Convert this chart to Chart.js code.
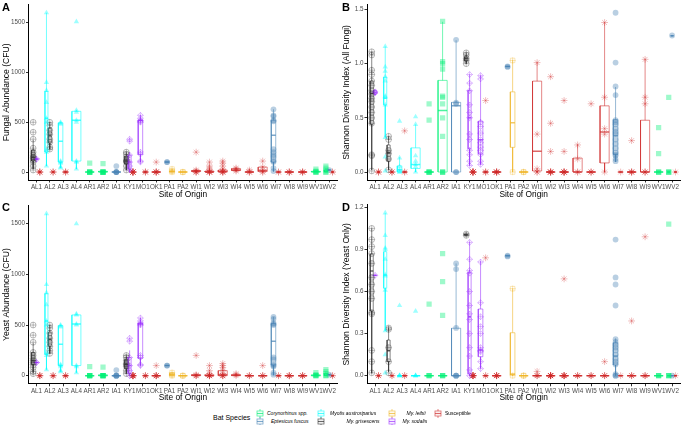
<!DOCTYPE html>
<html>
<head>
<meta charset="utf-8">
<script src="https://cdn.jsdelivr.net/npm/chart.js@4.4.0/dist/chart.umd.min.js"></script>
<style>
  body { margin: 0; background: #fff; width: 685px; height: 425px; position: relative; overflow: hidden;
         font-family: 'Liberation Sans', Arial, sans-serif; }
  canvas { position: absolute; }
  .tag { position: absolute; font-weight: bold; font-size: 11px; line-height: 1; }
  .leg { position: absolute; font-size: 5px; font-style: italic; white-space: nowrap; line-height: 1; color: #000; }
  .key { position: absolute; }
</style>
</head>
<body>
<canvas id="chartA" width="342" height="200" style="left:0;top:0"></canvas>
<canvas id="chartB" width="345" height="200" style="left:340px;top:0"></canvas>
<canvas id="chartC" width="342" height="204" style="left:0;top:200px"></canvas>
<canvas id="chartD" width="345" height="204" style="left:340px;top:200px"></canvas>
<div class="tag" style="left:2px;top:2px">A</div>
<div class="tag" style="left:342px;top:2px">B</div>
<div class="tag" style="left:2px;top:202px">C</div>
<div class="tag" style="left:342px;top:202px">D</div>
<div id="legend"></div>

<script>
/**
 * Bat species boxplots by site - four panels (abundance and Shannon diversity)
 */

const sites = ['AL1', 'AL2', 'AL3', 'AL4', 'AR1', 'AR2', 'IA1', 'KY1', 'MO1', 'OK1', 'PA1', 'PA2',
    'WI1', 'WI2', 'WI3', 'WI4', 'WI5', 'WI6', 'WI7', 'WI8', 'WI9', 'WV1', 'WV2'];
const speciesKeys = ['Cory', 'Epfu', 'Myau', 'Mygr', 'Myle', 'Myso', 'Susc'];
const speciesNames = ['Corynorhinus spp.', 'Eptesicus fuscus', 'Myotis austroriparius', 'My. grisescens',
    'My. leibii', 'My. sodalis', 'Susceptible'];

// species sampled at each site (dodge order)
const siteSpecies = [
    ['Mygr', 'Myso', 'Susc'], ['Myau', 'Mygr', 'Susc'], ['Myau', 'Susc'], ['Myau'], ['Cory'], ['Cory'],
    ['Epfu'], ['Mygr', 'Myso', 'Susc'], ['Myso', 'Susc'], ['Susc'], ['Epfu', 'Myle'], ['Myle'],
    ['Susc'], ['Susc'], ['Susc'], ['Susc'], ['Susc'], ['Susc'], ['Epfu', 'Susc'], ['Susc'], ['Susc'],
    ['Cory'], ['Cory', 'Epfu', 'Susc']
];

// boxes: [site, species, lower whisker, Q1, median, Q3, upper whisker]
const boxesA = [
    ['AL1', 'Mygr', 30, 110, 150, 220, 320], ['AL1', 'Myso', 125, 128, 130, 132, 135], ['AL1', 'Susc', 0, 0, 0, 0, 0],
    ['AL2', 'Myau', 60, 200, 540, 810, 1600], ['AL2', 'Mygr', 230, 290, 370, 440, 500], ['AL2', 'Susc', 0, 0, 0, 0, 0],
    ['AL3', 'Myau', 40, 100, 310, 495, 500], ['AL3', 'Susc', 0, 0, 0, 0, 0],
    ['AL4', 'Myau', 30, 110, 520, 610, 620],
    ['AR1', 'Cory', 0, 0, 0, 0, 0], ['AR2', 'Cory', 0, 0, 3, 8, 10], ['IA1', 'Epfu', 0, 0, 0, 0, 0],
    ['KY1', 'Mygr', 20, 80, 110, 160, 200], ['KY1', 'Myso', 0, 30, 100, 170, 200], ['KY1', 'Susc', 0, 0, 0, 0, 0],
    ['MO1', 'Myso', 100, 175, 520, 520, 570], ['MO1', 'Susc', 0, 0, 0, 0, 0], ['OK1', 'Susc', 0, 0, 0, 0, 0],
    ['PA1', 'Epfu', 100, 100, 100, 100, 100], ['PA1', 'Myle', 0, 0, 5, 10, 30], ['PA2', 'Myle', 0, 0, 0, 0, 0],
    ['WI1', 'Susc', 0, 5, 10, 15, 20], ['WI2', 'Susc', 0, 0, 0, 10, 20], ['WI3', 'Susc', 0, 0, 5, 20, 40],
    ['WI4', 'Susc', 10, 15, 20, 35, 40], ['WI5', 'Susc', 0, 0, 0, 0, 0], ['WI6', 'Susc', 0, 5, 15, 50, 60],
    ['WI7', 'Epfu', 5, 100, 370, 520, 630], ['WI7', 'Susc', 0, 0, 0, 0, 0],
    ['WI8', 'Susc', 0, 0, 0, 0, 0], ['WI9', 'Susc', 0, 0, 0, 0, 0],
    ['WV1', 'Cory', 0, 0, 3, 8, 15], ['WV2', 'Cory', 0, 0, 5, 20, 40], ['WV2', 'Epfu', 20, 20, 20, 20, 20],
    ['WV2', 'Susc', 0, 0, 0, 0, 0]
];
// points: [site, species, values]
const pointsA = [
    ['AL1', 'Mygr', [500, 400, 330, 240, 200, 170, 150, 140, 120, 100, 60, 20]], ['AL1', 'Myso', [130, 130]],
    ['AL1', 'Susc', [0, 0, 0, 0]],
    ['AL2', 'Myau', [1600, 900, 820, 700, 540, 500, 220, 200, 60]], ['AL2', 'Mygr', [500, 470, 420, 380, 330, 300, 250, 230]],
    ['AL2', 'Susc', [0, 0, 0]],
    ['AL3', 'Myau', [500, 490, 480, 110, 100, 90, 50, 40]], ['AL3', 'Susc', [0, 0, 0]],
    ['AL4', 'Myau', [1510, 620, 600, 520, 500, 110, 100, 30]],
    ['AR1', 'Cory', [90, 0, 0, 0, 0, 0]], ['AR2', 'Cory', [85, 0, 0, 0, 0, 0, 0]], ['IA1', 'Epfu', [60, 0, 0, 0, 0]],
    ['KY1', 'Mygr', [200, 180, 150, 120, 110, 100, 60, 20]], ['KY1', 'Myso', [330, 310, 170, 100, 60, 20]],
    ['KY1', 'Susc', [0, 0, 0, 0, 0, 0, 0, 0]],
    ['MO1', 'Myso', [570, 540, 520, 510, 500, 200, 180, 110, 100]], ['MO1', 'Susc', [0, 0, 0]],
    ['OK1', 'Susc', [100, 0, 0, 0, 0, 0]],
    ['PA1', 'Epfu', [100, 100]], ['PA1', 'Myle', [30, 10, 0]], ['PA2', 'Myle', [0, 0]],
    ['WI1', 'Susc', [200, 20, 10, 0, 0, 0]], ['WI2', 'Susc', [100, 60, 40, 20, 0, 0, 0, 0, 0]],
    ['WI3', 'Susc', [110, 90, 60, 30, 10, 0, 0, 0, 0]], ['WI4', 'Susc', [40, 30, 20, 10]],
    ['WI5', 'Susc', [20, 0, 0, 0]], ['WI6', 'Susc', [110, 50, 20, 0, 0]],
    ['WI7', 'Epfu', [630, 570, 560, 520, 510, 230, 200, 170, 150, 110, 100, 40, 10]], ['WI7', 'Susc', [0, 0]],
    ['WI8', 'Susc', [0, 0, 0, 0]], ['WI9', 'Susc', [0, 0, 0, 0]],
    ['WV1', 'Cory', [30, 10, 0, 0, 0]], ['WV2', 'Cory', [60, 40, 20, 0, 0]], ['WV2', 'Epfu', [20]], ['WV2', 'Susc', [0, 0]]
];

const boxesB = [
    ['AL1', 'Mygr', 0.02, 0.44, 0.725, 0.84, 1.11], ['AL1', 'Myso', 0.71, 0.72, 0.735, 0.755, 0.76], ['AL1', 'Susc', 0, 0, 0, 0, 0],
    ['AL2', 'Myau', 0.32, 0.62, 0.68, 0.875, 1.16], ['AL2', 'Mygr', 0.02, 0.10, 0.178, 0.25, 0.33], ['AL2', 'Susc', 0, 0, 0, 0, 0],
    ['AL3', 'Myau', 0, 0, 0.02, 0.057, 0.138], ['AL3', 'Susc', 0, 0, 0, 0, 0],
    ['AL4', 'Myau', 0, 0.033, 0.07, 0.223, 0.44],
    ['AR1', 'Cory', 0, 0, 0, 0, 0], ['AR2', 'Cory', 0, 0, 0.569, 0.846, 1.387], ['IA1', 'Epfu', 0, 0, 0.611, 0.643, 1.216],
    ['KY1', 'Mygr', 1.0, 1.026, 1.045, 1.065, 1.10], ['KY1', 'Myso', 0.06, 0.214, 0.5, 0.755, 0.90], ['KY1', 'Susc', 0, 0, 0, 0, 0],
    ['MO1', 'Myso', 0.069, 0.168, 0.298, 0.469, 0.89], ['MO1', 'Susc', 0, 0, 0, 0, 0], ['OK1', 'Susc', 0, 0, 0, 0, 0],
    ['PA1', 'Epfu', 0.975, 0.975, 0.975, 0.975, 0.975], ['PA1', 'Myle', 0, 0.228, 0.454, 0.74, 1.035], ['PA2', 'Myle', 0, 0, 0, 0, 0],
    ['WI1', 'Susc', 0, 0.01, 0.192, 0.839, 1.01], ['WI2', 'Susc', 0, 0, 0, 0, 0], ['WI3', 'Susc', 0, 0, 0, 0, 0],
    ['WI4', 'Susc', 0, 0, 0, 0.129, 0.255], ['WI5', 'Susc', 0, 0, 0, 0, 0], ['WI6', 'Susc', 0, 0.084, 0.37, 0.611, 1.378],
    ['WI7', 'Epfu', 0.093, 0.162, 0.334, 0.484, 0.785], ['WI7', 'Susc', 0, 0, 0, 0, 0],
    ['WI8', 'Susc', 0, 0, 0, 0, 0], ['WI9', 'Susc', 0, 0, 0, 0.478, 1.04],
    ['WV1', 'Cory', 0, 0, 0, 0, 0], ['WV2', 'Cory', 0, 0, 0, 0, 0], ['WV2', 'Epfu', 1.257, 1.257, 1.257, 1.257, 1.257],
    ['WV2', 'Susc', 0, 0, 0, 0, 0]
];
const pointsB = [
    ['AL1', 'Mygr', [1.11, 1.08, 0.94, 0.90, 0.84, 0.80, 0.75, 0.72, 0.68, 0.65, 0.60, 0.55, 0.50, 0.45, 0.16, 0.15, 0.01]],
    ['AL1', 'Myso', [0.74, 0.73]], ['AL1', 'Susc', [0, 0, 0]],
    ['AL2', 'Myau', [1.16, 0.97, 0.93, 0.88, 0.84, 0.70, 0.69, 0.62, 0.32, 0.14, 0.01]],
    ['AL2', 'Mygr', [0.33, 0.30, 0.20, 0.17, 0.12, 0.02]], ['AL2', 'Susc', [0, 0, 0]],
    ['AL3', 'Myau', [0.47, 0.13, 0.05, 0.02, 0, 0]], ['AL3', 'Susc', [0.38, 0, 0]],
    ['AL4', 'Myau', [0.51, 0.44, 0.15, 0.10, 0.07, 0.05, 0]],
    ['AR1', 'Cory', [0.63, 0.48, 0, 0, 0, 0]], ['AR2', 'Cory', [1.39, 1.02, 1.00, 0.95, 0.70, 0.69, 0.63, 0.50, 0.33, 0, 0, 0]],
    ['IA1', 'Epfu', [1.22, 0.64, 0.63, 0, 0]],
    ['KY1', 'Mygr', [1.10, 1.08, 1.05, 1.03, 1.00]],
    ['KY1', 'Myso', [0.90, 0.82, 0.75, 0.62, 0.55, 0.50, 0.35, 0.30, 0.20, 0.16, 0.10, 0.06]],
    ['KY1', 'Susc', [0, 0, 0, 0, 0, 0, 0, 0]],
    ['MO1', 'Myso', [0.89, 0.86, 0.46, 0.42, 0.36, 0.30, 0.27, 0.23, 0.20, 0.16, 0.10, 0.07]],
    ['MO1', 'Susc', [0.66, 0, 0, 0]], ['OK1', 'Susc', [0, 0, 0, 0, 0, 0]],
    ['PA1', 'Epfu', [0.975, 0.97]], ['PA1', 'Myle', [1.03, 0]], ['PA2', 'Myle', [0, 0]],
    ['WI1', 'Susc', [1.01, 0.35, 0.03, 0, 0]], ['WI2', 'Susc', [0.88, 0.45, 0.19, 0, 0, 0, 0, 0, 0]],
    ['WI3', 'Susc', [0.66, 0.19, 0, 0, 0, 0, 0, 0]], ['WI4', 'Susc', [0.25, 0.12, 0, 0]],
    ['WI5', 'Susc', [0.63, 0, 0, 0]], ['WI6', 'Susc', [1.38, 0.69, 0.40, 0.35, 0]],
    ['WI7', 'Epfu', [1.47, 1.01, 0.79, 0.71, 0.48, 0.46, 0.44, 0.40, 0.37, 0.35, 0.30, 0.26, 0.22, 0.18, 0.16, 0.15, 0.12, 0.10]],
    ['WI7', 'Susc', [0]], ['WI8', 'Susc', [0.29, 0, 0, 0, 0]], ['WI9', 'Susc', [1.04, 0.69, 0.63, 0, 0, 0]],
    ['WV1', 'Cory', [0.41, 0.17, 0, 0, 0]], ['WV2', 'Cory', [0.69, 0, 0, 0]], ['WV2', 'Epfu', [1.26]], ['WV2', 'Susc', [0]]
];

const boxesC = [
    ['AL1', 'Mygr', 30, 110, 150, 230, 320], ['AL1', 'Myso', 125, 128, 130, 132, 135], ['AL1', 'Susc', 0, 0, 0, 0, 0],
    ['AL2', 'Myau', 60, 210, 540, 810, 1600], ['AL2', 'Mygr', 220, 290, 360, 430, 500], ['AL2', 'Susc', 0, 0, 0, 0, 0],
    ['AL3', 'Myau', 40, 100, 310, 495, 500], ['AL3', 'Susc', 0, 0, 0, 0, 0],
    ['AL4', 'Myau', 30, 100, 510, 600, 610],
    ['AR1', 'Cory', 0, 0, 0, 0, 0], ['AR2', 'Cory', 0, 0, 3, 8, 10], ['IA1', 'Epfu', 0, 0, 0, 0, 0],
    ['KY1', 'Mygr', 20, 70, 110, 160, 200], ['KY1', 'Myso', 0, 20, 100, 180, 250], ['KY1', 'Susc', 0, 0, 0, 0, 0],
    ['MO1', 'Myso', 100, 170, 510, 520, 570], ['MO1', 'Susc', 0, 0, 0, 0, 0], ['OK1', 'Susc', 0, 0, 0, 0, 0],
    ['PA1', 'Epfu', 100, 100, 100, 100, 100], ['PA1', 'Myle', 0, 0, 10, 25, 30], ['PA2', 'Myle', 0, 0, 0, 0, 0],
    ['WI1', 'Susc', 0, 0, 5, 10, 10], ['WI2', 'Susc', 0, 0, 0, 10, 20], ['WI3', 'Susc', 0, 0, 10, 50, 110],
    ['WI4', 'Susc', 0, 0, 5, 10, 20], ['WI5', 'Susc', 0, 0, 0, 0, 0], ['WI6', 'Susc', 0, 0, 0, 0, 0],
    ['WI7', 'Epfu', 5, 105, 340, 515, 580], ['WI7', 'Susc', 0, 0, 0, 0, 0],
    ['WI8', 'Susc', 0, 0, 0, 0, 0], ['WI9', 'Susc', 0, 0, 0, 0, 0],
    ['WV1', 'Cory', 0, 0, 3, 8, 15], ['WV2', 'Cory', 0, 0, 5, 20, 40], ['WV2', 'Epfu', 10, 10, 10, 10, 10],
    ['WV2', 'Susc', 0, 0, 0, 0, 0]
];
const pointsC = [
    ['AL1', 'Mygr', [500, 400, 330, 230, 200, 170, 150, 130, 110, 80, 40, 20]], ['AL1', 'Myso', [130, 130]],
    ['AL1', 'Susc', [0, 0, 0, 0]],
    ['AL2', 'Myau', [1600, 900, 820, 700, 540, 500, 220, 200, 60]], ['AL2', 'Mygr', [500, 470, 420, 370, 330, 290, 250, 220]],
    ['AL2', 'Susc', [0, 0, 0]],
    ['AL3', 'Myau', [500, 490, 480, 110, 100, 90, 50, 40]], ['AL3', 'Susc', [0, 0, 0]],
    ['AL4', 'Myau', [1500, 610, 600, 510, 500, 100, 90, 30]],
    ['AR1', 'Cory', [90, 0, 0, 0, 0, 0]], ['AR2', 'Cory', [85, 0, 0, 0, 0, 0, 0]], ['IA1', 'Epfu', [55, 0, 0, 0, 0]],
    ['KY1', 'Mygr', [200, 180, 150, 120, 110, 90, 50, 20]], ['KY1', 'Myso', [370, 340, 180, 100, 50, 0]],
    ['KY1', 'Susc', [0, 0, 0, 0, 0, 0, 0, 0]],
    ['MO1', 'Myso', [570, 540, 520, 510, 500, 200, 180, 110, 100]], ['MO1', 'Susc', [0, 0, 0]],
    ['OK1', 'Susc', [100, 0, 0, 0, 0, 0]],
    ['PA1', 'Epfu', [100, 100]], ['PA1', 'Myle', [30, 10, 0]], ['PA2', 'Myle', [0, 0]],
    ['WI1', 'Susc', [200, 10, 0, 0, 0]], ['WI2', 'Susc', [100, 50, 20, 0, 0, 0, 0, 0]],
    ['WI3', 'Susc', [120, 100, 80, 50, 20, 0, 0, 0, 0]], ['WI4', 'Susc', [20, 10, 0]],
    ['WI5', 'Susc', [0, 0, 0]], ['WI6', 'Susc', [100, 0, 0, 0]],
    ['WI7', 'Epfu', [580, 560, 520, 510, 500, 180, 160, 110, 100, 90, 30, 10]], ['WI7', 'Susc', [0, 0]],
    ['WI8', 'Susc', [0, 0, 0, 0]], ['WI9', 'Susc', [0, 0, 0, 0]],
    ['WV1', 'Cory', [30, 10, 0, 0, 0]], ['WV2', 'Cory', [60, 40, 20, 0, 0]], ['WV2', 'Epfu', [10]], ['WV2', 'Susc', [0, 0]]
];

const boxesD = [
    ['AL1', 'Mygr', 0.017, 0.461, 0.746, 0.867, 1.05], ['AL1', 'Myso', 0.715, 0.715, 0.715, 0.715, 0.715], ['AL1', 'Susc', 0, 0, 0, 0, 0],
    ['AL2', 'Myau', 0.32, 0.623, 0.718, 0.884, 1.16], ['AL2', 'Mygr', 0.028, 0.10, 0.178, 0.254, 0.342], ['AL2', 'Susc', 0, 0, 0, 0, 0],
    ['AL3', 'Myau', 0, 0, 0, 0, 0], ['AL3', 'Susc', 0, 0, 0, 0, 0], ['AL4', 'Myau', 0, 0, 0, 0, 0],
    ['AR1', 'Cory', 0, 0, 0, 0, 0], ['AR2', 'Cory', 0, 0, 0, 0, 0], ['IA1', 'Epfu', 0, 0, 0, 0.338, 0.80],
    ['KY1', 'Mygr', 1.0, 1.0, 1.005, 1.01, 1.01], ['KY1', 'Myso', 0, 0.012, 0.42, 0.737, 0.955], ['KY1', 'Susc', 0, 0, 0, 0, 0],
    ['MO1', 'Myso', 0.052, 0.135, 0.183, 0.475, 0.817], ['MO1', 'Susc', 0, 0, 0, 0, 0], ['OK1', 'Susc', 0, 0, 0, 0, 0],
    ['PA1', 'Epfu', 0.855, 0.855, 0.855, 0.855, 0.855], ['PA1', 'Myle', 0, 0.005, 0.01, 0.306, 0.623], ['PA2', 'Myle', 0, 0, 0, 0, 0],
    ['WI1', 'Susc', 0, 0, 0, 0, 0], ['WI2', 'Susc', 0, 0, 0, 0, 0], ['WI3', 'Susc', 0, 0, 0, 0, 0],
    ['WI4', 'Susc', 0, 0, 0, 0, 0], ['WI5', 'Susc', 0, 0, 0, 0, 0], ['WI6', 'Susc', 0, 0, 0, 0, 0],
    ['WI7', 'Epfu', 0, 0.076, 0.14, 0.235, 0.266], ['WI7', 'Susc', 0, 0, 0, 0, 0],
    ['WI8', 'Susc', 0, 0, 0, 0, 0], ['WI9', 'Susc', 0, 0, 0, 0, 0],
    ['WV1', 'Cory', 0, 0, 0, 0, 0], ['WV2', 'Cory', 0, 0, 0, 0, 0], ['WV2', 'Epfu', 0, 0, 0, 0, 0], ['WV2', 'Susc', 0, 0, 0, 0, 0]
];
const pointsD = [
    ['AL1', 'Mygr', [1.05, 0.97, 0.92, 0.87, 0.80, 0.70, 0.65, 0.60, 0.55, 0.45, 0.44, 0.18, 0.10, 0.02]],
    ['AL1', 'Myso', [0.715]], ['AL1', 'Susc', [0, 0, 0]],
    ['AL2', 'Myau', [1.16, 1.00, 0.91, 0.90, 0.83, 0.72, 0.71, 0.61, 0.32, 0.15, 0.02]],
    ['AL2', 'Mygr', [0.34, 0.33, 0.20, 0.10, 0.02]], ['AL2', 'Susc', [0, 0]],
    ['AL3', 'Myau', [0.50, 0, 0, 0]], ['AL3', 'Susc', [0, 0]], ['AL4', 'Myau', [0.46, 0, 0, 0]],
    ['AR1', 'Cory', [0.51, 0, 0, 0]], ['AR2', 'Cory', [0.87, 0.67, 0.43, 0, 0, 0]],
    ['IA1', 'Epfu', [0.80, 0.76, 0.34, 0, 0, 0]],
    ['KY1', 'Mygr', [1.01, 1.00]],
    ['KY1', 'Myso', [0.95, 0.83, 0.75, 0.73, 0.60, 0.50, 0.44, 0.40, 0.30, 0.20, 0.14, 0.04, 0]],
    ['KY1', 'Susc', [0, 0, 0, 0, 0, 0, 0, 0]],
    ['MO1', 'Myso', [0.81, 0.52, 0.42, 0.35, 0.30, 0.20, 0.18, 0.17, 0.10, 0.05]],
    ['MO1', 'Susc', [0.84, 0, 0]], ['OK1', 'Susc', [0, 0, 0, 0, 0, 0]],
    ['PA1', 'Epfu', [0.855, 0.85]], ['PA1', 'Myle', [0.62, 0]], ['PA2', 'Myle', [0, 0]],
    ['WI1', 'Susc', [0.03, 0, 0, 0]], ['WI2', 'Susc', [0, 0, 0, 0, 0, 0, 0, 0]],
    ['WI3', 'Susc', [0.69, 0, 0, 0, 0, 0, 0]], ['WI4', 'Susc', [0, 0, 0]], ['WI5', 'Susc', [0, 0, 0]],
    ['WI6', 'Susc', [0.10, 0, 0, 0]],
    ['WI7', 'Epfu', [0.97, 0.70, 0.65, 0.50, 0.26, 0.24, 0.22, 0.20, 0.18, 0.15, 0.12, 0.10, 0.08, 0.01, 0, 0]],
    ['WI7', 'Susc', [0]], ['WI8', 'Susc', [0.39, 0, 0, 0]], ['WI9', 'Susc', [0.99, 0, 0, 0]],
    ['WV1', 'Cory', [0, 0, 0]], ['WV2', 'Cory', [1.08, 0, 0, 0]], ['WV2', 'Epfu', [0]], ['WV2', 'Susc', [0]]
];

const ticksAbundance = [0, 500, 1000, 1500];
const ticksShannonAll = [0, 0.5, 1.0, 1.5];
const ticksShannonYeast = [0, 0.3, 0.6, 0.9, 1.2];

// look per species: rgb colour, point shapes, whether filled, point radius
const speciesLook = {
    Cory: { rgb: '0,238,118', shapes: ['rect'], filled: true, r: 3.7 },
    Epfu: { rgb: '70,130,180', shapes: ['circle'], filled: true, r: 2.9 },
    Myau: { rgb: '0,255,255', shapes: ['triangle'], filled: true, r: 3.1 },
    Mygr: { rgb: '40,40,40', shapes: ['circle', 'cross'], filled: false, r: 2.9 },
    Myle: { rgb: '238,180,34', shapes: ['rect', 'cross'], filled: false, r: 3.2 },
    Myso: { rgb: '155,48,255', shapes: ['rectRot', 'cross'], filled: false, r: 2.9 },
    Susc: { rgb: '205,38,38', shapes: ['star'], filled: false, r: 3.4 }
};

Chart.defaults.font.family = "'Liberation Sans', Arial, sans-serif";

// dodge position of a species within its site
function dodge(site, sp) {
    const i = sites.indexOf(site);
    const group = siteSpecies[i];
    const slot = 0.75 / group.length;
    return { x: i - 0.375 + slot * (group.indexOf(sp) + 0.5), half: slot * 0.45 };
}

function boxDatasets(boxes) {
    const out = [];
    speciesKeys.forEach(sp => {
        const frame = [], mids = [];
        boxes.filter(b => b[1] === sp).forEach(([site, , lo, q1, med, q3, hi]) => {
            const { x, half } = dodge(site, sp);
            frame.push(
                { x: x - half, y: q1 }, { x: x + half, y: q1 }, { x: x + half, y: q3 },
                { x: x - half, y: q3 }, { x: x - half, y: q1 }, { x: x, y: null },
                { x: x, y: q3 }, { x: x, y: hi }, { x: x, y: null },
                { x: x, y: q1 }, { x: x, y: lo }, { x: x, y: null });
            mids.push({ x: x - half, y: med }, { x: x + half, y: med }, { x: x, y: null });
        });
        if (!frame.length) return;
        const col = 'rgba(' + speciesLook[sp].rgb + ',0.7)';
        out.push({ type: 'line', data: frame, borderColor: col, borderWidth: 0.8, pointRadius: 0,
            fill: false, spanGaps: false, tension: 0, order: 0 });
        out.push({ type: 'line', data: mids, borderColor: col, borderWidth: 1.5, pointRadius: 0,
            fill: false, spanGaps: false, tension: 0, borderCapStyle: 'butt', order: 0 });
    });
    return out;
}

function pointDatasets(points) {
    const out = [];
    speciesKeys.forEach(sp => {
        const data = [];
        points.filter(p => p[1] === sp).forEach(([site, , values]) => {
            const { x } = dodge(site, sp);
            values.forEach(v => data.push({ x: x, y: v }));
        });
        if (!data.length) return;
        const look = speciesLook[sp];
        const col = 'rgba(' + look.rgb + ',0.38)';
        look.shapes.forEach(shape => {
            out.push({
                type: 'scatter', data: data, pointStyle: shape,
                pointRadius: look.r,
                backgroundColor: look.filled ? col : 'rgba(0,0,0,0)',
                borderColor: col, borderWidth: look.filled ? 0 : 0.8, order: 1
            });
        });
    });
    return out;
}

function makeChart(id, boxes, points, cfg) {
    return new Chart(document.getElementById(id), {
        type: 'scatter',
        data: { datasets: [...pointDatasets(points), ...boxDatasets(boxes)] },
        options: {
            responsive: false,
            animation: false,
            events: [],
            layout: { padding: { top: cfg.top, right: cfg.right, left: 0, bottom: 0 } },
            plugins: { legend: { display: false }, tooltip: { enabled: false } },
            scales: {
                x: {
                    type: 'linear', min: -0.6, max: 22.6,
                    afterBuildTicks: s => { s.ticks = sites.map((_, i) => ({ value: i })); },
                    afterFit: s => { s.height = cfg.xHeight; },
                    ticks: { autoSkip: false, maxRotation: 0, padding: 1, color: '#4d4d4d',
                        font: { size: 6.3 }, callback: v => sites[v] },
                    grid: { drawOnChartArea: false, tickLength: 2.5, color: '#333' },
                    border: { display: true, color: '#000', width: 1 },
                    title: { display: true, text: 'Site of Origin', color: '#000', font: { size: 8.4 },
                        padding: { top: 0, bottom: cfg.xTitlePad } }
                },
                y: {
                    type: 'linear', min: cfg.min, max: cfg.max,
                    afterBuildTicks: s => { s.ticks = cfg.ticks.map(v => ({ value: v })); },
                    afterFit: s => { s.width = cfg.yWidth; },
                    ticks: { padding: 1, color: '#4d4d4d', font: { size: 6.3 }, callback: cfg.fmt },
                    grid: { drawOnChartArea: false, tickLength: 2.5, color: '#333' },
                    border: { display: true, color: '#000', width: 1 },
                    title: { display: true, text: cfg.title, color: '#000', font: { size: 8.6 },
                        padding: { top: 1, bottom: 0 } }
                }
            }
        }
    });
}

const intFmt = v => String(v);
const decFmt = v => v.toFixed(1);

makeChart('chartA', boxesA, pointsA, { min: -80, max: 1680, ticks: ticksAbundance, fmt: intFmt,
    title: 'Fungal Abundance (CFU)', top: 1, right: 2, yWidth: 28.5, xHeight: 20, xTitlePad: 0.5 });
makeChart('chartB', boxesB, pointsB, { min: -0.0735, max: 1.5435, ticks: ticksShannonAll, fmt: decFmt,
    title: 'Shannon Diversity Index (All Fungi)', top: 1, right: 0, yWidth: 27, xHeight: 20, xTitlePad: 0.5 });
makeChart('chartC', boxesC, pointsC, { min: -80, max: 1680, ticks: ticksAbundance, fmt: intFmt,
    title: 'Yeast Abundance (CFU)', top: 5.5, right: 2, yWidth: 28.5, xHeight: 20.2, xTitlePad: 1.5 });
makeChart('chartD', boxesD, pointsD, { min: -0.058, max: 1.218, ticks: ticksShannonYeast, fmt: decFmt,
    title: 'Shannon Diversity Index (Yeast Only)', top: 4.8, right: 0, yWidth: 27, xHeight: 20.2, xTitlePad: 1.5 });

// legend (two rows of boxplot keys)
const legendSlots = [
    { sp: 'Cory', kx: 260, tx: 267, row: 0 }, { sp: 'Epfu', kx: 260, tx: 271, row: 1 },
    { sp: 'Myau', kx: 320.5, tx: 330, row: 0 }, { sp: 'Mygr', kx: 321, tx: 346.5, row: 1 },
    { sp: 'Myle', kx: 392, tx: 406.5, row: 0 }, { sp: 'Myso', kx: 392, tx: 402.5, row: 1 },
    { sp: 'Susc', kx: 437.5, tx: 445, row: 0 }
];
const rowY = [413.5, 421];
const legend = document.getElementById('legend');
legend.innerHTML = '<div class="leg" style="left:213px;top:414px;font-size:7px;font-style:normal">Bat Species</div>';
legendSlots.forEach(s => {
    const col = 'rgba(' + speciesLook[s.sp].rgb + ',0.7)';
    const y = rowY[s.row];
    const name = speciesNames[speciesKeys.indexOf(s.sp)];
    legend.innerHTML +=
        '<svg class="key" width="8" height="9" style="left:' + (s.kx - 4) + 'px;top:' + (y - 4.5) + 'px">' +
        '<line x1="4" y1="0" x2="4" y2="2" stroke="' + col + '" stroke-width="0.8"/>' +
        '<rect x="1" y="2" width="6" height="5" fill="none" stroke="' + col + '" stroke-width="0.8"/>' +
        '<line x1="1" y1="4.5" x2="7" y2="4.5" stroke="' + col + '" stroke-width="1.2"/>' +
        '<line x1="4" y1="7" x2="4" y2="9" stroke="' + col + '" stroke-width="0.8"/></svg>' +
        '<div class="leg" style="left:' + s.tx + 'px;top:' + (y - 2.5) + 'px;' +
        (s.sp === 'Susc' ? 'font-style:normal' : '') + '">' + name + '</div>';
});
</script>
</body>
</html>
